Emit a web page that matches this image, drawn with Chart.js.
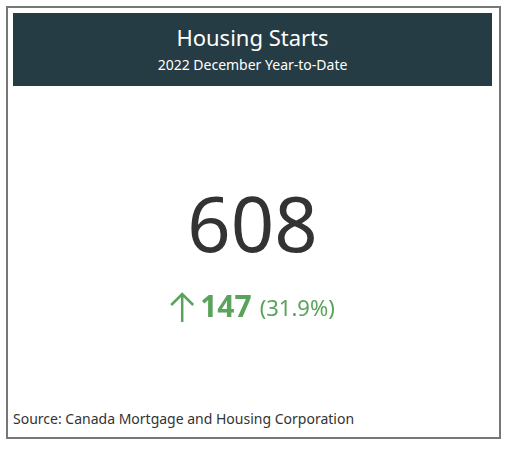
<!DOCTYPE html>
<html><head><meta charset="utf-8">
<script src="https://cdn.jsdelivr.net/npm/chart.js@4"></script>
<style>
body{margin:0;background:#fff;font-family:"Noto Sans",sans-serif}
#card{position:absolute;left:6px;top:6px;width:491px;height:429px;border:2px solid #777}
#head{position:absolute;left:5px;top:5px;width:479px;height:73px;background:#263c44;color:#fff;text-align:center}
#head .t{font-size:22px;margin-top:10px;line-height:28px}
#head .s{font-size:14px;margin-top:4px}
#wrap{position:absolute;left:5px;top:80px;width:479px;height:300px}
#src{position:absolute;left:5px;top:401px;font-size:14px;color:#333}
</style></head><body>
<div id="card">
  <div id="head"><div class="t">Housing Starts</div><div class="s">2022 December Year-to-Date</div></div>
  <div id="wrap"><canvas id="kpi"></canvas></div>
  <div id="src">Source: Canada Mortgage and Housing Corporation</div>
</div>
<script>
// ── DATA ──
const labels = ['2022 YTD', '2021 YTD'];
const starts = [608, 461];

const kpiText = {
    id: 'kpiText',
    afterDraw(chart) {
        const ctx = chart.ctx;
        const vals = chart.data.datasets[0].data;
        const diff = vals[0] - vals[1];
        const pct = (diff / vals[1] * 100).toFixed(1);
        const cx = chart.width / 2;
        ctx.save();
        ctx.textBaseline = 'middle';
        ctx.textAlign = 'center';
        ctx.fillStyle = '#333';
        ctx.font = '76px "Noto Sans"';
        ctx.fillText(vals[0], cx, 142);
        // change line
        ctx.textAlign = 'left';
        ctx.font = 'bold 30px "Noto Sans"';
        const a = String(diff);
        const wa = ctx.measureText(a).width;
        ctx.font = '22px "Noto Sans"';
        const b = '(' + pct + '%)';
        const wb = ctx.measureText(b).width;
        const total = 30 + wa + 8 + wb;
        let x = cx - total / 2;
        const y = 220;
        ctx.strokeStyle = '#59a35a';
        ctx.fillStyle = '#59a35a';
        ctx.lineWidth = 2.5;
        ctx.beginPath();
        ctx.moveTo(x + 12, y + 14); ctx.lineTo(x + 12, y - 14);
        ctx.moveTo(x + 1, y - 3); ctx.lineTo(x + 12, y - 14); ctx.lineTo(x + 23, y - 3);
        ctx.stroke();
        x += 30;
        ctx.font = 'bold 30px "Noto Sans"';
        ctx.fillText(a, x, y);
        x += wa + 8;
        ctx.font = '22px "Noto Sans"';
        ctx.fillText(b, x, y + 2);
        ctx.restore();
    }
};

new Chart(document.getElementById('kpi'), {
    type: 'bar',
    data: { labels, datasets: [{ data: starts, backgroundColor: 'rgba(0,0,0,0)' }] },
    options: {
        responsive: true, maintainAspectRatio: false, animation: false,
        plugins: { legend: { display: false }, tooltip: { enabled: false } },
        scales: { x: { display: false }, y: { display: false } }
    },
    plugins: [kpiText]
});
</script>
</body></html>
